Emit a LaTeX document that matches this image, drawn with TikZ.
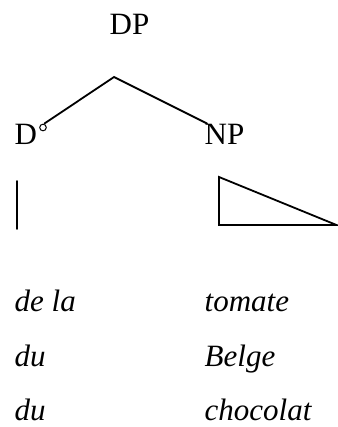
\documentclass[tikz,border=0pt]{standalone}
\usepackage{fontspec}
\setmainfont{Liberation Serif}
\begin{document}
\begin{tikzpicture}[x=1pt,y=-1pt,
  lbl/.style={anchor=base west,inner sep=0pt,font=\fontsize{31}{36}\selectfont},
  wrd/.style={lbl,font=\fontsize{31}{36}\selectfont\itshape},
  edge/.style={line width=1.8pt,line cap=round,line join=miter}]
\useasboundingbox (0,0) rectangle (337,427);
\node[lbl] (dp) at (109.5,35) {DP};
\node[lbl] (d) at (14.5,145) {D};
\node[lbl] (np) at (204.5,145) {NP};
\node[circle,draw,line width=1pt,minimum size=6.6pt,inner sep=0pt] (deg) at (43,127.5) {};
\coordinate (apex) at (114,77);
\coordinate (dend) at (44.5,123.5);
\coordinate (npend) at (207,123.5);
\draw[edge] (dend) -- (apex) -- (npend);
\coordinate (vt) at (17,181);
\coordinate (vb) at (17,229);
\draw[edge] (vt) -- (vb);
\coordinate (ta) at (219,177);
\coordinate (tb) at (219,225);
\coordinate (tc) at (336.5,225);
\draw[edge] (ta) -- (tb) -- (tc) -- cycle;
\node[wrd] (w1) at (14.5,311) {de la};
\node[wrd] (w2) at (204.5,311) {tomate};
\node[wrd] (w3) at (14.5,366) {du};
\node[wrd] (w4) at (204.5,366) {Belge};
\node[wrd] (w5) at (14.5,420) {du};
\node[wrd] (w6) at (204.5,420) {chocolat};
\end{tikzpicture}
\end{document}
